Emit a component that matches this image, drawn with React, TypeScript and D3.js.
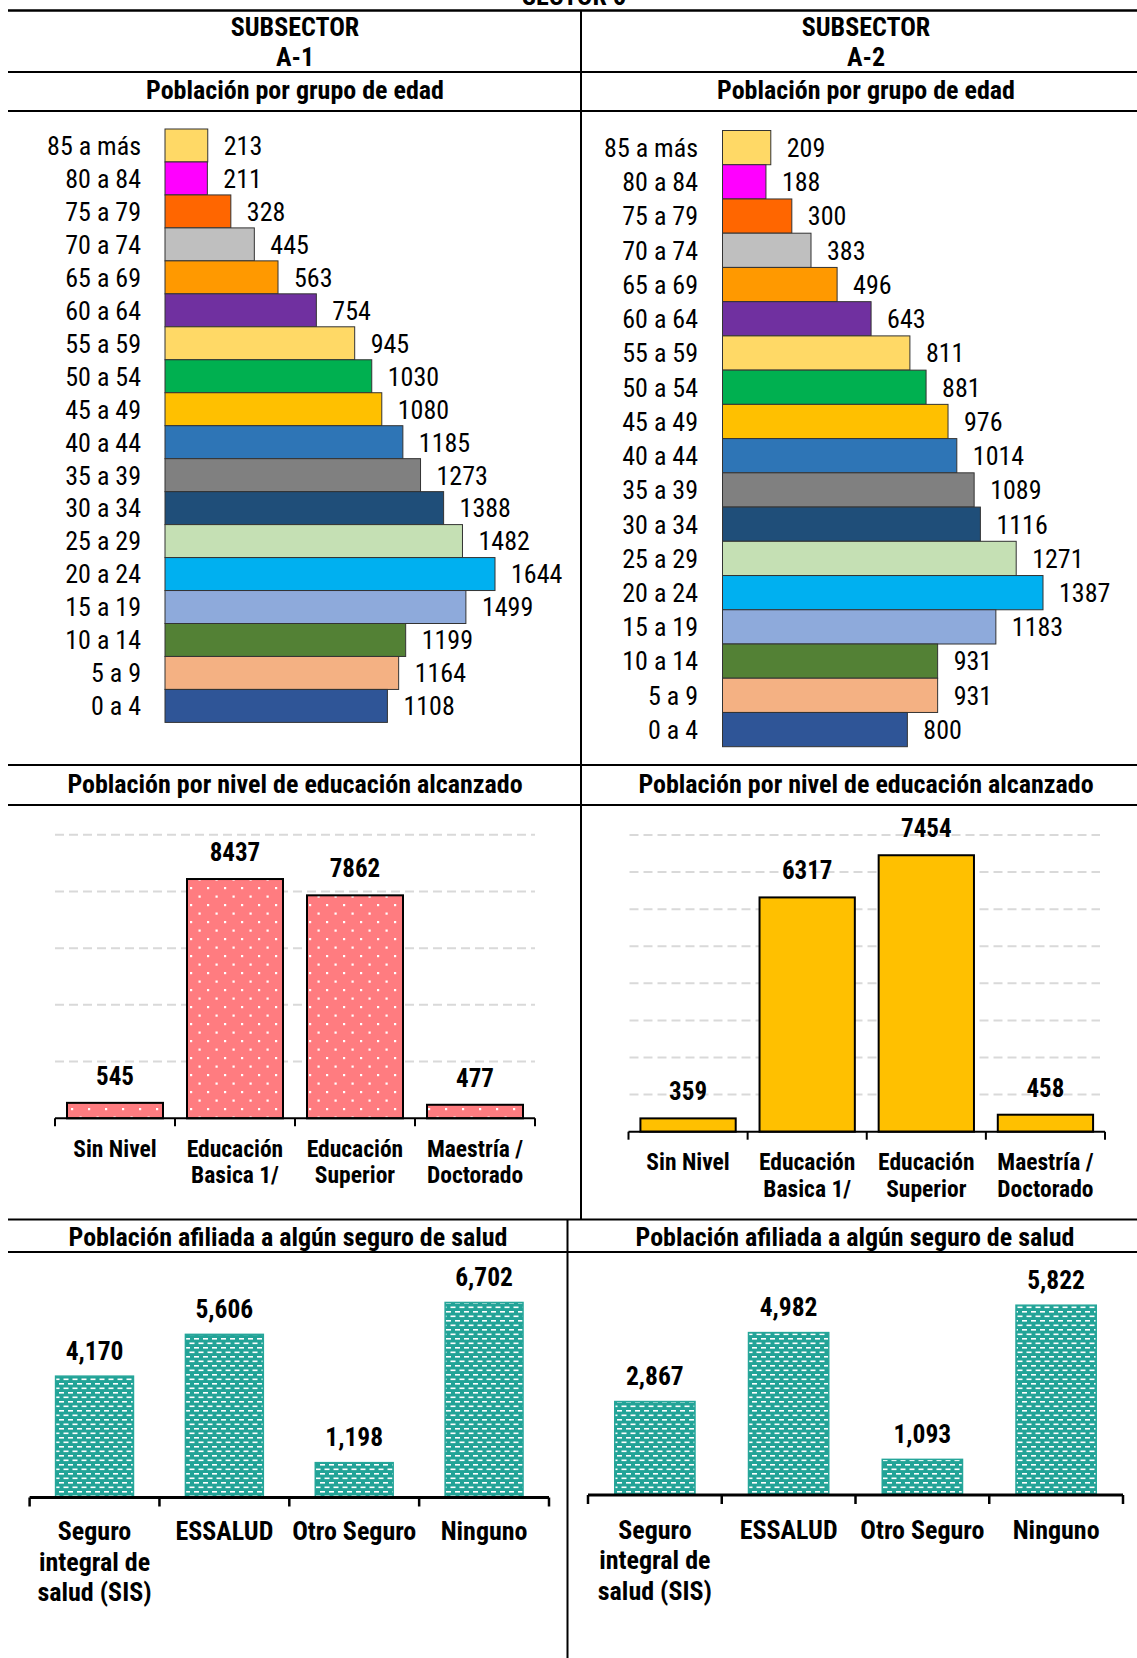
import React from "react";
import * as d3 from "d3";

const AGE_GROUPS = ["85 a más", "80 a 84", "75 a 79", "70 a 74", "65 a 69", "60 a 64", "55 a 59", "50 a 54", "45 a 49", "40 a 44", "35 a 39", "30 a 34", "25 a 29", "20 a 24", "15 a 19", "10 a 14", "5 a 9", "0 a 4"];
const AGE_COLORS = ["#FFD966", "#FF00FF", "#FF6600", "#BFBFBF", "#FF9900", "#7030A0", "#FFD966", "#00B050", "#FFC000", "#2E75B6", "#808080", "#1F4E79", "#C5E0B4", "#00B0F0", "#8EAADB", "#538135", "#F4B183", "#2F5597"];
const POP_A1 = [213, 211, 328, 445, 563, 754, 945, 1030, 1080, 1185, 1273, 1388, 1482, 1644, 1499, 1199, 1164, 1108];
const POP_A2 = [209, 188, 300, 383, 496, 643, 811, 881, 976, 1014, 1089, 1116, 1271, 1387, 1183, 931, 931, 800];

const EDU_CATS = ["Sin Nivel", "Educación\nBasica 1/", "Educación\nSuperior", "Maestría /\nDoctorado"];
const EDU_A1 = [545, 8437, 7862, 477];
const EDU_A2 = [359, 6317, 7454, 458];
const EDU_TICKS_A1 = [2000, 4000, 6000, 8000, 10000];
const EDU_TICKS_A2 = [1000, 2000, 3000, 4000, 5000, 6000, 7000, 8000];

const SALUD_CATS = ["Seguro\nintegral de\nsalud (SIS)", "ESSALUD", "Otro Seguro", "Ninguno"];
const SALUD_A1 = [4170, 5606, 1198, 6702];
const SALUD_A2 = [2867, 4982, 1093, 5822];

const FONT = "'Liberation Sans Narrow', 'Arial Narrow', 'Roboto Condensed', 'DejaVu Sans Condensed', sans-serif";
const W = 1137;
const H = 1658;

function Pyramid({ values, x0, x1, vmax, y0, y1, labelX }) {
  const x = d3.scaleLinear().domain([0, vmax]).range([x0, x1]);
  const y = d3.scaleBand().domain(AGE_GROUPS).range([y0, y1]).padding(0);
  return (
    <g>
      {AGE_GROUPS.map((g, i) => (
        <g key={g}>
          <rect x={x(0)} y={y(g)} width={x(values[i]) - x(0)} height={y.bandwidth()} fill={AGE_COLORS[i]} stroke="#333" strokeWidth={1} />
          <text x={labelX} y={y(g) + y.bandwidth() / 2} dy="0.36em" textAnchor="end" fontSize={26} fontFamily={FONT}>{g}</text>
          <text x={x(values[i]) + 16} y={y(g) + y.bandwidth() / 2} dy="0.36em" fontSize={26} fontFamily={FONT}>{values[i]}</text>
        </g>
      ))}
    </g>
  );
}

function EduChart({ values, r0, r1, vmax, base, top, ticks, fill, gx0, gx1 }) {
  const x = d3.scaleBand().domain(EDU_CATS).range([r0, r1]).paddingInner(0.2).paddingOuter(0.1);
  const y = d3.scaleLinear().domain([0, vmax]).range([base, top]);
  const step = x.step();
  const bounds = d3.range(EDU_CATS.length + 1).map((i) => r0 + i * step);
  return (
    <g>
      {ticks.map((t) => (
        <line key={t} x1={gx0} x2={gx1} y1={y(t)} y2={y(t)} stroke="#D9D9D9" strokeWidth={2} strokeDasharray="9,5" />
      ))}
      {EDU_CATS.map((c, i) => (
        <g key={c}>
          <rect x={x(c)} y={y(values[i])} width={x.bandwidth()} height={base - y(values[i])} fill={fill} stroke="#000" strokeWidth={2} />
          <text x={x(c) + x.bandwidth() / 2} y={y(values[i]) - 18} textAnchor="middle" fontSize={25} fontWeight="bold" fontFamily={FONT}>{values[i]}</text>
          {c.split("\n").map((ln, k) => (
            <text key={k} x={x(c) + x.bandwidth() / 2} y={base + 38.5 + k * 26.5} textAnchor="middle" fontSize={23.5} fontWeight="bold" fontFamily={FONT}>{ln}</text>
          ))}
        </g>
      ))}
      <line x1={r0} x2={r1} y1={base} y2={base} stroke="#000" strokeWidth={2} />
      {bounds.map((b, i) => (
        <line key={i} x1={b} x2={b} y1={base} y2={base + 8} stroke="#000" strokeWidth={2} />
      ))}
    </g>
  );
}

function SaludChart({ values, r0, r1, vmax, base, top, labelGap }) {
  const x = d3.scaleBand().domain(SALUD_CATS).range([r0, r1]).paddingInner(0.4).paddingOuter(0.2);
  const y = d3.scaleLinear().domain([0, vmax]).range([base, top]);
  const step = x.step();
  const bounds = d3.range(SALUD_CATS.length + 1).map((i) => r0 + i * step);
  const fmt = d3.format(",");
  return (
    <g>
      {SALUD_CATS.map((c, i) => (
        <g key={c}>
          <rect x={x(c)} y={y(values[i])} width={x.bandwidth()} height={base - y(values[i])} fill="url(#tealDash)" stroke="#26A69A" strokeWidth={1.5} />
          <text x={x(c) + x.bandwidth() / 2} y={y(values[i]) - 16.5} textAnchor="middle" fontSize={25.5} fontWeight="bold" fontFamily={FONT}>{fmt(values[i])}</text>
          {c.split("\n").map((ln, k) => (
            <text key={k} x={x(c) + x.bandwidth() / 2} y={base + labelGap + k * 30.7} textAnchor="middle" fontSize={26} fontWeight="bold" fontFamily={FONT}>{ln}</text>
          ))}
        </g>
      ))}
      <line x1={r0} x2={r1} y1={base} y2={base} stroke="#000" strokeWidth={3} />
      {bounds.map((b, i) => (
        <line key={i} x1={b} x2={b} y1={base} y2={base + 9} stroke="#000" strokeWidth={2.5} />
      ))}
    </g>
  );
}

export default function App() {
  const title = { fontSize: 26, fontWeight: "bold", fontFamily: FONT, textAnchor: "middle" } as any;
  return (
    <svg width={W} height={H} style={{ position: "absolute", left: 0, top: 0, background: "#fff" }}>
      <defs>
        <pattern id="pinkDots" patternUnits="userSpaceOnUse" width={17} height={17}>
          <rect width={17} height={17} fill="#FF7C80" />
          <rect x={3} y={3} width={2.2} height={2.2} fill="#fff" />
          <rect x={11.5} y={11.5} width={2.2} height={2.2} fill="#fff" />
        </pattern>
        <pattern id="tealDash" patternUnits="userSpaceOnUse" width={9} height={9}>
          <rect width={9} height={9} fill="#22A397" />
          <rect x={0.5} y={1.5} width={5} height={1.6} fill="#fff" />
          <rect x={5} y={6} width={4} height={1.6} fill="#fff" />
          <rect x={0} y={6} width={1} height={1.6} fill="#fff" />
        </pattern>
      </defs>

      {/* header */}
      <text x={574} y={5} {...title}>SECTOR 5</text>
      <text x={295} y={35.5} {...title}>SUBSECTOR</text>
      <text x={295} y={66} {...title}>A-1</text>
      <text x={866} y={35.5} {...title}>SUBSECTOR</text>
      <text x={866} y={66} {...title}>A-2</text>
      <text x={295} y={99} {...title}>Población por grupo de edad</text>
      <text x={866} y={99} {...title}>Población por grupo de edad</text>
      <text x={295} y={793} {...title}>Población por nivel de educación alcanzado</text>
      <text x={866} y={793} {...title}>Población por nivel de educación alcanzado</text>
      <text x={288} y={1246} {...title}>Población afiliada a algún seguro de salud</text>
      <text x={855} y={1246} {...title}>Población afiliada a algún seguro de salud</text>

      {/* grid lines of the layout table */}
      {[10.6, 72, 111, 765, 805, 1219.5, 1252].map((yy, i) => (
        <line key={i} x1={8} x2={W} y1={yy} y2={yy} stroke="#000" strokeWidth={i === 0 ? 2.5 : 2} />
      ))}
      <line x1={581} x2={581} y1={10} y2={1220} stroke="#000" strokeWidth={2} />
      <line x1={567.5} x2={567.5} y1={1219} y2={H} stroke="#000" strokeWidth={2} />

      <Pyramid values={POP_A1} x0={165} x1={495} vmax={1644} y0={129} y1={722.4} labelX={141} />
      <Pyramid values={POP_A2} x0={722.5} x1={1043} vmax={1387} y0={130.5} y1={746.7} labelX={698} />

      <EduChart values={EDU_A1} r0={55} r1={535} vmax={10000} base={1118.3} top={834.7} ticks={EDU_TICKS_A1} fill="url(#pinkDots)" gx0={55} gx1={535} />
      <EduChart values={EDU_A2} r0={628.5} r1={1105} vmax={8000} base={1131.7} top={835} ticks={EDU_TICKS_A2} fill="#FFC000" gx0={629.5} gx1={1100} />

      <SaludChart values={SALUD_A1} r0={29.6} r1={549} vmax={8000} base={1497.5} top={1264.7} labelGap={42.5} />
      <SaludChart values={SALUD_A2} r0={588} r1={1123} vmax={7000} base={1495} top={1266.8} labelGap={43.5} />
    </svg>
  );
}
